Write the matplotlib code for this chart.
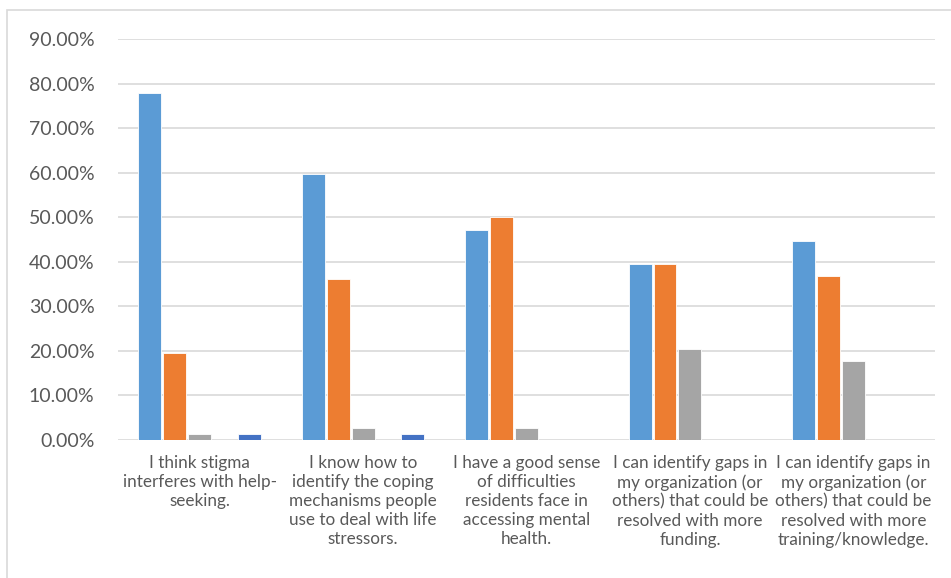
import matplotlib.pyplot as plt
import numpy as np
from matplotlib.ticker import FuncFormatter
from matplotlib.patches import Rectangle

categories = [
    "I think stigma\ninterferes with help-\nseeking.",
    "I know how to\nidentify the coping\nmechanisms people\nuse to deal with life\nstressors.",
    "I have a good sense\nof difficulties\nresidents face in\naccessing mental\nhealth.",
    "I can identify gaps in\nmy organization (or\nothers) that could be\nresolved with more\nfunding.",
    "I can identify gaps in\nmy organization (or\nothers) that could be\nresolved with more\ntraining/knowledge.",
]

# percentages per series (5 series, the 4th is empty)
s1 = [77.78, 59.72, 47.22, 39.50, 44.70]
s2 = [19.44, 36.11, 50.00, 39.50, 36.80]
s3 = [1.39, 2.78, 2.78, 20.50, 17.80]
s4 = [0, 0, 0, 0, 0]
s5 = [1.39, 1.39, 0, 0, 0]

series = [s1, s2, s3, s4, s5]
colors = ["#5B9BD5", "#ED7D31", "#A5A5A5", "#FFC000", "#4472C4"]

plt.rcParams['font.family'] = ['Lato', 'DejaVu Sans']

fig = plt.figure(figsize=(9.51, 5.78), dpi=100)
ax = fig.add_axes([118 / 951, 1 - 440 / 578, (935 - 118) / 951, (440 - 39) / 578])

# outer chart border
fig.patches.append(Rectangle((7 / 951, -0.05), 1.1, 1 - 9.5 / 578 + 0.05,
                             transform=fig.transFigure, fill=False,
                             edgecolor="#D9D9D9", linewidth=1.2))

x = np.arange(len(categories))
w = 25 / 164
for i, s in enumerate(series):
    ax.bar(x + (i - 2) * w, s, width=w * 0.92, color=colors[i],
           edgecolor="white", linewidth=0.6, zorder=3)

ax.set_xlim(-0.5, len(categories) - 0.5)
ax.set_ylim(0, 90)
ax.set_yticks(np.arange(0, 91, 10))
ax.yaxis.set_major_formatter(FuncFormatter(lambda v, p: "%.2f%%" % v))
ax.grid(axis='y', color="#D9D9D9", linewidth=1.2, zorder=0)
ax.set_xticks(x)
ax.set_xticklabels(categories, fontsize=12.3, color="#595959", linespacing=1.22)
ax.tick_params(axis='y', labelsize=14, colors="#595959", length=0, pad=17)
ax.tick_params(axis='x', length=0, pad=11)
for sp in ax.spines.values():
    sp.set_visible(False)

fig.savefig("out.png", dpi=100)
